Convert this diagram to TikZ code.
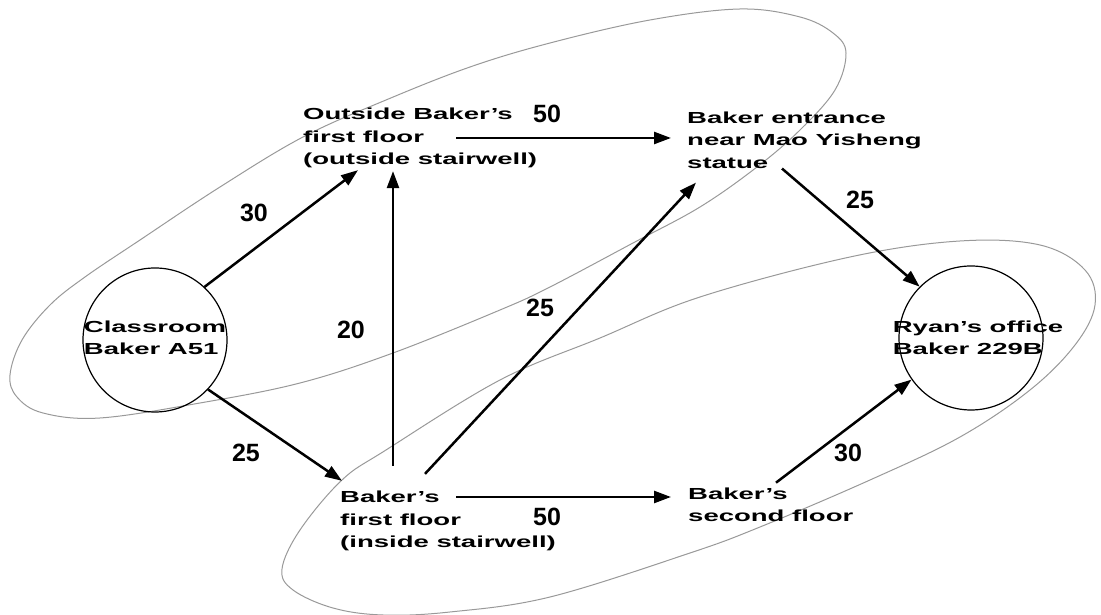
\documentclass[tikz,border=0pt]{standalone}
\usepackage{fontspec}
\usepackage{tikz}
\usetikzlibrary{arrows.meta}
\newfontfamily\widefont[FakeStretch=1.72]{Liberation Sans}
\newfontfamily\numfont{Liberation Sans}

\begin{document}
\begin{tikzpicture}[x=1pt,y=1pt,
	place/.style={shape=circle,draw=black,line width=1.2pt,minimum size=144pt,inner sep=0pt},
	spot/.style={inner sep=0pt,align=left,font=\widefont\bfseries\fontsize{16}{22.5}\selectfont},
	cost/.style={inner sep=0pt,font=\numfont\bfseries\fontsize{25}{25}\selectfont},
	arr/.style={-{Triangle[length=17pt,width=12pt]},line width=2.5pt},
	group/.style={draw=black!40,line width=1pt}]
	\useasboundingbox (0,0) rectangle (1101,615);

	% the two groups
	\draw[group] plot[smooth cycle,tension=0.6] coordinates {(10,240) (22,275) (50,310) (85,338) (140,375) (220,428) (303,478) (386,515) (470,548) (550,572) (650,595) (740,606) (800,598) (833,582) (846,562) (835,525) (800,485) (757,448) (700,408) (633,372) (550,328) (500,305) (393,262) (300,232) (200,212) (100,197) (43,202) (17,218)};
	\draw[group] plot[smooth cycle,tension=0.6] coordinates {(282,46) (300,85) (342,135) (386,165) (500,235) (600,277) (700,318) (850,358) (960,374) (1040,370) (1085,345) (1095,310) (1075,270) (1030,225) (960,178) (870,135) (760,88) (690,62) (550,18) (450,3) (383,0) (333,7) (293,25)};

	\node[place] (cls) at (155,275) {};
	\node[place] (ry) at (971,277) {};
	\node[spot] (clsname) at (155,277) {Classroom\\Baker A51};
	\node[spot] (ryname) at (978,277) {Ryan’s office\\Baker 229B};
	\node[spot,anchor=west] (ob) at (303,477) {Outside Baker’s\\first floor\\(outside stairwell)};
	\node[spot,anchor=west] (en) at (687,475) {Baker entrance\\near Mao Yisheng\\statue};
	\node[spot,anchor=west] (in) at (340,94) {Baker’s\\first floor\\(inside stairwell)};
	\node[spot,anchor=west] (sf) at (688,110) {Baker’s\\second floor};

	\draw[arr] (cls.47) -- ([xshift=55pt,yshift=-2pt]ob.south west);
	\draw[arr] (cls.-43) -- ([xshift=2pt,yshift=10pt]in.north west);
	\draw[arr] ([xshift=53pt,yshift=25pt]in.north west) -- ([xshift=90pt,yshift=-3pt]ob.south west);
	\draw[arr] ([xshift=85pt,yshift=17pt]in.north west) -- ([xshift=9pt,yshift=-14pt]en.south west);
	\draw[arr] ([xshift=153pt]ob.west) -- ([xshift=-16pt]ob.west -| en.west);
	\draw[arr] ([xshift=116pt,yshift=24pt]in.west) -- ([xshift=-17pt,yshift=24pt]in.west -| sf.west);
	\draw[arr] ([xshift=95pt]en.south west) -- (ry.135);
	\draw[arr] ([xshift=88pt,yshift=5pt]sf.north west) -- (ry.215);

	\node[cost] (w1) at (547,501) {50};
	\node[cost] (w2) at (254,402) {30};
	\node[cost] (w3) at (351,285) {20};
	\node[cost] (w4) at (246,162) {25};
	\node[cost] (w5) at (540,307) {25};
	\node[cost] (w6) at (860,415) {25};
	\node[cost] (w7) at (848,162) {30};
	\node[cost] (w8) at (547,98) {50};

\end{tikzpicture}
\end{document}
